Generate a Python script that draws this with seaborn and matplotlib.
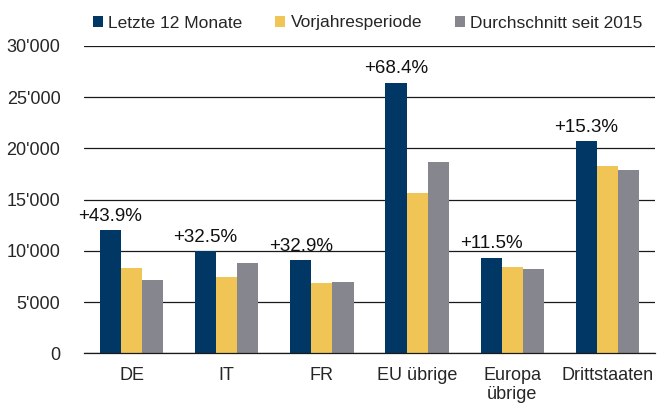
import matplotlib
matplotlib.use("Agg")
import matplotlib.pyplot as plt
import numpy as np
import pandas as pd
import seaborn as sns
from matplotlib.ticker import FuncFormatter, MultipleLocator

# Data
regions = ["DE", "IT", "FR", "EU übrige", "Europa\nübrige", "Drittstaaten"]
series_names = ["Letzte 12 Monate", "Vorjahresperiode", "Durchschnitt seit 2015"]
last_12m = [12000, 9950, 9080, 26400, 9340, 20700]
prev_year = [8330, 7480, 6820, 15680, 8430, 18240]
avg_since_2015 = [7200, 8850, 6990, 18660, 8230, 17940]
change_labels = ["+43.9%", "+32.5%", "+32.9%", "+68.4%", "+11.5%", "+15.3%"]

colors = ["#003764", "#F0C455", "#86868F"]

df = pd.DataFrame({
    "region": regions * 3,
    "series": np.repeat(series_names, len(regions)),
    "value": last_12m + prev_year + avg_since_2015,
})

sns.set_style("white")
plt.rcParams["font.family"] = ["Liberation Sans", "DejaVu Sans"]
FS = 12.5

fig = plt.figure(figsize=(6.62, 4.03), dpi=100)
ax = fig.add_axes([84 / 662, 1 - 353.3 / 403, (655 - 84) / 662, (353.3 - 46) / 403])

sns.barplot(data=df, x="region", y="value", hue="series", palette=colors,
            width=0.667, gap=0, saturation=1, linewidth=0, ax=ax, legend=True)

ax.set_ylim(0, 30000)
ax.set_xlim(-0.5, len(regions) - 0.5)
ax.yaxis.set_major_locator(MultipleLocator(5000))
ax.yaxis.set_major_formatter(FuncFormatter(lambda v, _: f"{int(v):,}".replace(",", "'")))
ax.grid(axis="y", color="#1a1a1a", linewidth=0.9)
ax.set_axisbelow(True)
for side in ["top", "right", "left"]:
    ax.spines[side].set_visible(False)
ax.spines["bottom"].set_color("#1a1a1a")
ax.spines["bottom"].set_linewidth(0.9)

ax.tick_params(axis="y", length=0, pad=17, labelsize=13)
ax.tick_params(axis="x", which="major", length=0, pad=10, labelsize=13)
for lbl in ax.get_xticklabels():
    lbl.set_linespacing(1.12)
ax.set_xticks(np.arange(-0.5, len(regions)), minor=True)
ax.tick_params(axis="x", which="minor", length=5, width=0.9, color="#1a1a1a", direction="out")
ax.set_xlabel("")
ax.set_ylabel("")

# percentage change labels above the "last 12 months" bars
navy_bars = ax.containers[0]
for bar, label in zip(navy_bars, change_labels):
    ax.annotate(label, (bar.get_x() + bar.get_width() / 2, bar.get_height()),
                xytext=(0, 4), textcoords="offset points",
                ha="center", va="bottom", fontsize=13.5, color="#111111")

handles, labels = ax.get_legend_handles_labels()
ax.legend(handles, labels, loc="center left", ncol=3, frameon=False,
          bbox_to_anchor=(92.7 / 662, 1 - 23 / 403), bbox_transform=fig.transFigure,
          borderaxespad=0, borderpad=0, fontsize=FS,
          handlelength=0.58, handleheight=0.58, handletextpad=0.3,
          columnspacing=1.9)

fig.savefig("out.png", dpi=100)
